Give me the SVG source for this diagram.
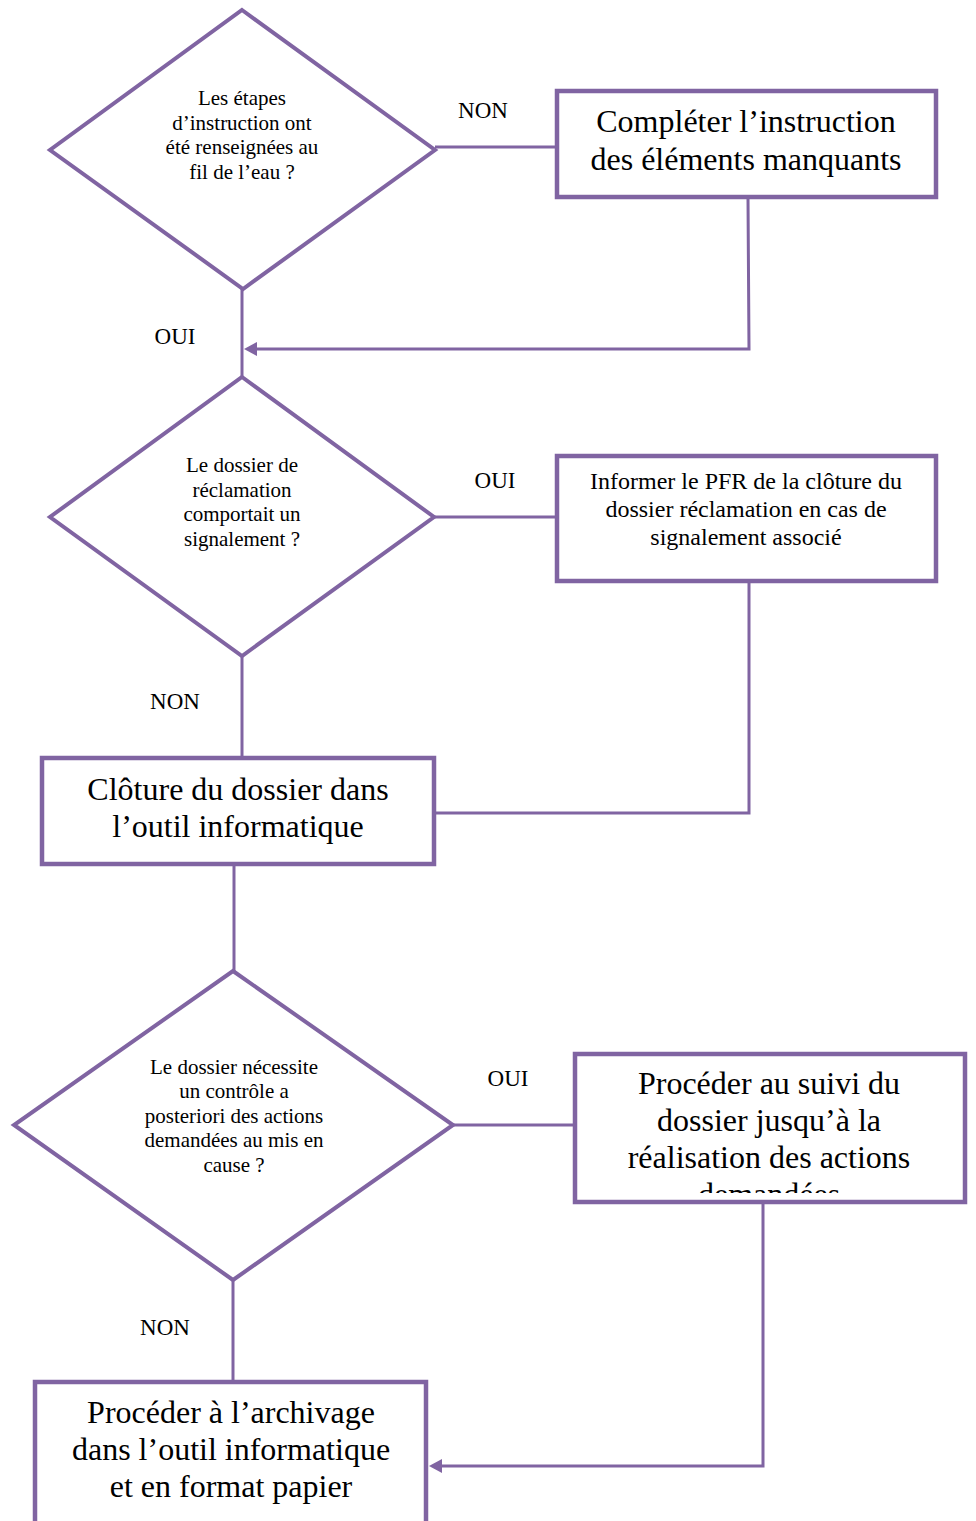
<svg xmlns="http://www.w3.org/2000/svg" width="976" height="1521" viewBox="0 0 976 1521">
  <defs>
    <style>
      .shape { fill: #ffffff; stroke: #8064A2; stroke-width: 4; }
      .box { stroke-width: 4.5; }
      .link { fill: none; stroke: #8064A2; stroke-width: 3; }
      .head { fill: #8064A2; }
      .t { font-family: "Liberation Serif", "Times New Roman", serif; fill: #000000; text-anchor: middle; }
      .q { font-size: 21px; }
      .box-sm { font-size: 24px; }
      .box-lg { font-size: 32px; }
      .lbl { font-size: 23px; }
    </style>
    <clipPath id="clip-suivi">
      <rect x="575" y="1054" width="389" height="139"/>
    </clipPath>
  </defs>

  <rect width="976" height="1521" fill="#ffffff"/>

  <!-- connectors -->
  <g id="connectors">
    <line class="link" x1="435" y1="147" x2="557" y2="147"/>
    <polyline class="link" points="748,198 749,349 256,349"/>
    <path class="head" d="M244,349 L257,342 L257,356 Z"/>
    <line class="link" x1="242" y1="289" x2="242" y2="377"/>
    <line class="link" x1="434" y1="517" x2="557" y2="517"/>
    <polyline class="link" points="749,582 749,813 435,813"/>
    <line class="link" x1="242" y1="656" x2="242" y2="758"/>
    <line class="link" x1="234" y1="865" x2="234" y2="971"/>
    <line class="link" x1="453" y1="1125" x2="575" y2="1125"/>
    <polyline class="link" points="763,1204 763,1466 441,1466"/>
    <path class="head" d="M429,1466 L442,1459 L442,1473 Z"/>
    <line class="link" x1="233" y1="1280" x2="233" y2="1382"/>
  </g>

  <!-- branch labels -->
  <g id="labels">
    <text class="t lbl" x="483" y="118">NON</text>
    <text class="t lbl" x="175" y="344">OUI</text>
    <text class="t lbl" x="495" y="488">OUI</text>
    <text class="t lbl" x="175" y="709">NON</text>
    <text class="t lbl" x="508" y="1086">OUI</text>
    <text class="t lbl" x="165" y="1335">NON</text>
  </g>

  <!-- decision: instruction steps -->
  <g id="decision-etapes">
    <polygon class="shape" points="242,10 435,150 243,289 50,150"/>
    <text class="t q" x="242" y="105">Les étapes</text>
    <text class="t q" x="242" y="129.5">d’instruction ont</text>
    <text class="t q" x="242" y="154">été renseignées au</text>
    <text class="t q" x="242" y="178.5">fil de l’eau ?</text>
  </g>

  <!-- action: complete the file -->
  <g id="box-completer">
    <rect class="shape box" x="557" y="91" width="379" height="106"/>
    <text class="t box-lg" x="746" y="132">Compléter l’instruction</text>
    <text class="t box-lg" x="746" y="170">des éléments manquants</text>
  </g>

  <!-- decision: alert attached -->
  <g id="decision-signalement">
    <polygon class="shape" points="242,377 434,517 242,656 50,517"/>
    <text class="t q" x="242" y="472">Le dossier de</text>
    <text class="t q" x="242" y="496.5">réclamation</text>
    <text class="t q" x="242" y="521">comportait un</text>
    <text class="t q" x="242" y="545.5">signalement ?</text>
  </g>

  <!-- action: inform PFR -->
  <g id="box-informer">
    <rect class="shape box" x="557" y="456" width="379" height="125"/>
    <text class="t box-sm" x="746" y="489">Informer le PFR de la clôture du</text>
    <text class="t box-sm" x="746" y="517">dossier réclamation en cas de</text>
    <text class="t box-sm" x="746" y="545">signalement associé</text>
  </g>

  <!-- action: close the file -->
  <g id="box-cloture">
    <rect class="shape box" x="42" y="758" width="392" height="106"/>
    <text class="t box-lg" x="238" y="800">Clôture du dossier dans</text>
    <text class="t box-lg" x="238" y="837">l’outil informatique</text>
  </g>

  <!-- decision: follow-up control -->
  <g id="decision-controle">
    <polygon class="shape" points="233,971 453,1125 233,1280 14,1125"/>
    <text class="t q" x="234" y="1073.5">Le dossier nécessite</text>
    <text class="t q" x="234" y="1098">un contrôle a</text>
    <text class="t q" x="234" y="1122.5">posteriori des actions</text>
    <text class="t q" x="234" y="1147">demandées au mis en</text>
    <text class="t q" x="234" y="1171.5">cause ?</text>
  </g>

  <!-- action: follow-up (last line overflows the frame and is cut) -->
  <g id="box-suivi">
    <rect class="shape box" x="575" y="1054" width="390" height="148"/>
    <g clip-path="url(#clip-suivi)">
      <text class="t box-lg" x="769" y="1094">Procéder au suivi du</text>
      <text class="t box-lg" x="769" y="1131">dossier jusqu’à la</text>
      <text class="t box-lg" x="769" y="1168">réalisation des actions</text>
      <text class="t box-lg" x="769" y="1205">demandées</text>
    </g>
  </g>

  <!-- action: archiving -->
  <g id="box-archivage">
    <rect class="shape box" x="35" y="1382" width="391" height="160"/>
    <text class="t box-lg" x="231" y="1423">Procéder à l’archivage</text>
    <text class="t box-lg" x="231" y="1460">dans l’outil informatique</text>
    <text class="t box-lg" x="231" y="1497">et en format papier</text>
  </g>
</svg>
